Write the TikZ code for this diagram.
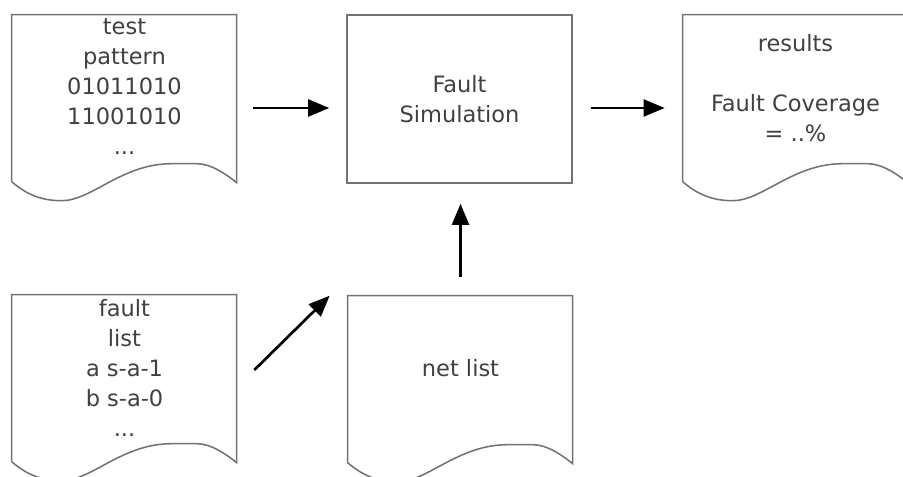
\documentclass[tikz,border=0pt]{standalone}
\usepackage{fontspec}
\setmainfont{DejaVu Sans}
\usepackage{tikz}
\usetikzlibrary{arrows.meta}

\tikzset{
  frame/.style = {draw = black!55, line width = 1.1pt},
  doc/.style = {minimum width = 5.625cm, minimum height = 4.65cm, inner sep = 0pt},
  box/.style = {frame, minimum width = 5.625cm, minimum height = 4.2cm, align = center,
    text = black!75, font = \fontsize{16pt}{21.3pt}\selectfont},
  doctext/.style = {anchor = north, align = center, inner sep = 3pt, text = black!75,
    font = \fontsize{16pt}{21.3pt}\selectfont}
}

\newcommand{\docframe}[1]{%
  \draw[frame, shift = {(#1.north west)}] (0, 167) -- (0, 0) -- (225, 0) -- (225, 168)
    .. controls (215, 160) and (200, 149) .. (185, 149) -- (160, 149)
    .. controls (110, 149) and (80, 186) .. (50, 186)
    .. controls (30, 186) and (15, 180) .. (0, 167);
}

\begin{document}
\begin{tikzpicture}[x = 0.025cm, y = -0.025cm, >={Triangle[length = 15pt, width = 12pt]}]

\useasboundingbox (0, 0) rectangle (903, 477);

\node[doc] (tp) at (124.5, 108) {};
\node[doc] (fl) at (124.5, 388) {};
\node[doc] (nl) at (460.5, 389) {};
\node[doc] (res) at (795.5, 108) {};
\node[box] (fs) at (459.5, 99) {Fault\\Simulation};

\docframe{tp}
\docframe{fl}
\docframe{nl}
\docframe{res}

\node[doctext] (tptext) at (tp.north) {test\\pattern\\01011010\\11001010\\...};
\node[doctext] (fltext) at (fl.north) {fault\\list\\a s-a-1\\b s-a-0\\...};
\node[doctext] (nltext) at ([yshift = -42.4pt]nl.north) {net list};
\node[doctext] (restext) at ([yshift = -11pt]res.north) {results\\[21.3pt]Fault Coverage\\= ..\%};

\draw[->, line width = 1.9pt, shorten < = 11.4pt, shorten > = 12pt] (tp.east) -- (tp.east -| fs.west);
\draw[->, line width = 1.9pt, shorten < = 12.8pt, shorten > = 12.8pt] (fs.east |- res.west) -- (res.west);
\draw[->, line width = 1.9pt, shorten < = 13.5pt, shorten > = 14.2pt] (nl.north) -- (nl.north |- fs.south);
\draw[->, line width = 1.9pt] ([shift = {(17, -18)}]fl.east) -- ([shift = {(-18, 0)}]nl.north west);

\end{tikzpicture}
\end{document}
